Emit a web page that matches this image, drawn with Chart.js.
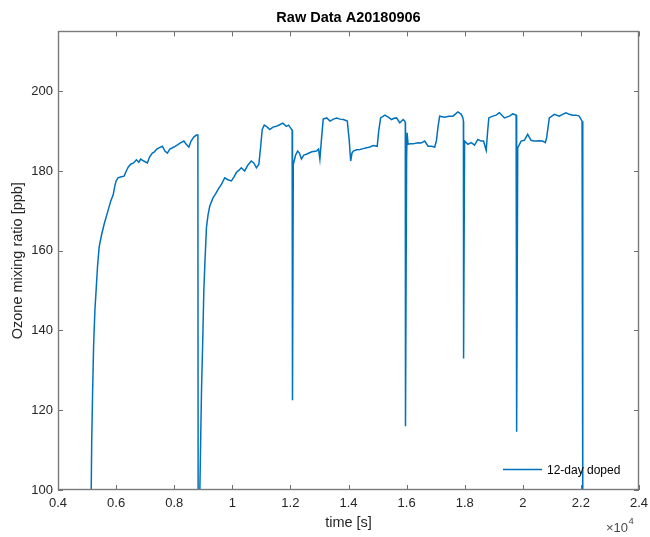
<!DOCTYPE html>
<html>
<head>
<meta charset="utf-8">
<script src="https://cdn.jsdelivr.net/npm/chart.js@4/dist/chart.umd.min.js"></script>
<style>
  html, body { margin: 0; padding: 0; background: #fff; }
  #wrap { width: 650px; height: 537px; }
</style>
</head>
<body>
<div id="wrap"><canvas id="ozoneChart"></canvas></div>
<script>
// --- Data (time in s, ozone in ppb) ---
const timeS = [
  5130, 5160, 5190, 5225, 5270, 5303, 5360, 5417, 5500, 5590, 5700, 5818, 5900, 5950, 6000, 6068,
  6150, 6275, 6350, 6420, 6504, 6600, 6700, 6780, 6847, 6950, 7077, 7150, 7248, 7320, 7400, 7480,
  7591, 7680, 7763, 7850, 7990, 8100, 8200, 8333, 8400, 8504, 8580, 8676, 8760, 8815, 8825,
  8860, 8900, 8940, 8980, 9020, 9060, 9110, 9165, 9225, 9340, 9430, 9510, 9630, 9740, 9850, 9970,
  10060, 10140, 10230, 10310, 10425, 10540, 10655, 10740, 10830, 10915, 10975, 11030, 11100, 11170,
  11230, 11290, 11400, 11515, 11630, 11740, 11860, 11940, 12030, 12060, 12072, 12100, 12180, 12250,
  12310, 12380, 12460, 12550, 12640, 12740, 12900, 12970, 13015, 13070, 13130, 13250, 13365, 13480,
  13595, 13708, 13822, 13959, 14027, 14060, 14075, 14120, 14165, 14280, 14394, 14510, 14624, 14740,
  14851, 14988, 15040, 15105, 15252, 15370, 15482, 15570, 15653, 15766, 15880, 15938, 15955, 15962,
  16000, 16017, 16051, 16140, 16223, 16394, 16500, 16624, 16738, 16850, 16967, 17025, 17080, 17138,
  17310, 17450, 17595, 17766, 17883, 17938, 17955, 17962, 17996, 18109, 18226, 18339, 18452, 18569,
  18648, 18740, 18790, 18830, 18967, 19080, 19197, 19369, 19540, 19654, 19770, 19785, 19791, 19825,
  19941, 20054, 20168, 20284, 20370, 20456, 20570, 20682, 20775, 20820, 20870, 20913, 21084, 21255,
  21370, 21485, 21600, 21712, 21830, 21941, 22040, 22062, 22068
];
const ozonePpb = [
  90, 112, 124, 136, 145, 149, 156, 161, 164, 166.7, 169.5, 172.5, 174, 176, 177.5, 178.3,
  178.5, 178.7, 180, 181, 181.7, 182, 182.8, 182.2, 183, 182.5, 182, 183.5, 184.5, 184.8, 185.5, 185.8,
  186.2, 185, 184.5, 185.5, 186, 186.5, 187, 187.5, 186.8, 186, 187.5, 188.5, 189, 189, 90,
  90, 107.5, 125, 136.7, 150, 157.5, 165.8, 169, 171.2, 173.3, 174.3, 175.4, 176.7, 178.3, 177.8, 177.5,
  178.5, 179.6, 180.2, 180.8, 180, 181.5, 182.5, 182, 180.8, 181.7, 186, 190.4, 191.5, 191.2,
  190.8, 190.4, 191, 191.2, 191.6, 192, 191.2, 191.5, 190.5, 190.3, 122.5, 181.7, 184, 185,
  184.5, 183, 184, 184.2, 184.5, 184.8, 185, 185.5, 183, 188, 193, 193.3, 192.5, 193,
  193.3, 193, 192.9, 192.5, 187.5, 184, 182.5, 184.5, 185, 185.3, 185.4, 185.6, 185.8, 186,
  186.4, 186.2, 190, 193.3, 194, 193.5, 192.9, 193.2, 193.3, 192.1, 192.9, 192.5, 192, 116,
  183, 189.6, 186.7, 186.8, 186.8, 187.1, 187, 187.5, 186.2, 186.2, 186, 187.5, 191, 193.75,
  193.5, 193.7, 193.75, 194.8, 194.2, 193.3, 192.5, 133, 187.5, 186.7, 187.1, 186.5, 187.9, 187.5,
  187.5, 185.2, 190, 193.3, 193.75, 194, 194.6, 193.3, 193.75, 194.3, 194, 193.5, 114.6, 185.8,
  187.5, 187.7, 189.2, 187.7, 187.5, 187.5, 187.6, 187.5, 187.1, 188.3, 191, 193.3, 194.2, 193.75,
  194.2, 194.6, 194.2, 194, 194, 193.75, 192.5, 192, 90
];
const xTicks = [4000, 6000, 8000, 10000, 12000, 14000, 16000, 18000, 20000, 22000, 24000];
const xTickLabels = ['0.4', '0.6', '0.8', '1', '1.2', '1.4', '1.6', '1.8', '2', '2.2', '2.4'];
const yTicks = [100, 120, 140, 160, 180, 200];
const seriesLabel = '12-day doped';

const FONT = "'Liberation Sans', Arial, Helvetica, sans-serif";
const AXIS_INK = '#262626';
const LINE_BLUE = '#0072BD';

// box + inward ticks, legend and the x10^4 exponent, matlab style
const matlabAxes = {
  id: 'matlabAxes',
  afterDatasetsDraw(chart) {
    const { ctx, chartArea: a, scales: { x, y } } = chart;
    ctx.save();
    ctx.strokeStyle = '#6e6e6e';
    ctx.lineWidth = 1;
    ctx.beginPath();
    xTicks.forEach(v => {
      const px = Math.round(x.getPixelForValue(v)) + 0.5;
      ctx.moveTo(px, a.bottom); ctx.lineTo(px, a.bottom - 5);
      ctx.moveTo(px, a.top); ctx.lineTo(px, a.top + 5);
    });
    yTicks.forEach(v => {
      const py = Math.round(y.getPixelForValue(v)) + 0.5;
      ctx.moveTo(a.left, py); ctx.lineTo(a.left + 5, py);
      ctx.moveTo(a.right, py); ctx.lineTo(a.right - 5, py);
    });
    ctx.stroke();
    ctx.strokeStyle = '#7a7a7a';
    ctx.lineWidth = 1.4;
    ctx.strokeRect(Math.round(a.left) + 0.5, Math.round(a.top) + 0.5,
                   Math.round(a.right - a.left) - 1, Math.round(a.bottom - a.top) - 1);

    // legend (no box)
    const ds = chart.data.datasets[0];
    ctx.strokeStyle = ds.borderColor;
    ctx.lineWidth = 1.4;
    ctx.beginPath();
    ctx.moveTo(a.right - 136, a.bottom - 20.5);
    ctx.lineTo(a.right - 97, a.bottom - 20.5);
    ctx.stroke();
    ctx.fillStyle = '#000';
    ctx.font = '12px ' + FONT;
    ctx.textAlign = 'left';
    ctx.textBaseline = 'middle';
    ctx.fillText(ds.label, a.right - 92, a.bottom - 19);

    // exponent label
    ctx.fillStyle = '#4a4a4a';
    ctx.font = '13px ' + FONT;
    ctx.fillText('\u00d710', a.right - 33, a.bottom + 38);
    ctx.font = '9.5px ' + FONT;
    ctx.fillText('4', a.right - 10.5, a.bottom + 31);
    ctx.restore();
  }
};

const ctx = document.getElementById('ozoneChart').getContext('2d');
new Chart(ctx, {
  type: 'line',
  data: {
    datasets: [{
      label: seriesLabel,
      data: timeS.map((t, i) => ({ x: t, y: ozonePpb[i] })),
      borderColor: LINE_BLUE,
      borderWidth: 1.5,
      pointRadius: 0,
      tension: 0,
      fill: false,
      clip: 0
    }]
  },
  options: {
    responsive: true,
    maintainAspectRatio: false,
    animation: false,
    layout: { padding: { left: 0, right: 11, top: 0, bottom: 0 } },
    plugins: {
      legend: { display: false },
      tooltip: { enabled: false },
      title: {
        display: true,
        fullSize: false,
        text: 'Raw Data A20180906',
        color: '#000',
        font: { family: FONT, size: 14.5, weight: 'bold' },
        padding: { top: 9, bottom: 5 }
      }
    },
    scales: {
      x: {
        type: 'linear',
        min: 4000,
        max: 24000,
        afterBuildTicks: s => { s.ticks = xTicks.map(v => ({ value: v })); },
        afterFit: s => { s.height = 47; s.paddingLeft = 0; s.paddingRight = 0; },
        grid: { display: false, drawTicks: false },
        border: { display: false },
        ticks: {
          padding: 6,
          color: AXIS_INK,
          font: { family: FONT, size: 13 },
          maxRotation: 0,
          autoSkip: false,
          callback: (v, i) => xTickLabels[i]
        },
        title: {
          display: true,
          text: 'time [s]',
          color: AXIS_INK,
          font: { family: FONT, size: 14.5 },
          padding: { top: 0, bottom: 5 }
        }
      },
      y: {
        min: 100,
        max: 215,
        afterBuildTicks: s => { s.ticks = yTicks.map(v => ({ value: v })); },
        afterFit: s => { s.width = 58; },
        grid: { display: false, drawTicks: false },
        border: { display: false },
        ticks: {
          padding: 5,
          color: AXIS_INK,
          font: { family: FONT, size: 13 }
        },
        title: {
          display: true,
          text: 'Ozone mixing ratio [ppb]',
          color: AXIS_INK,
          font: { family: FONT, size: 14.5 },
          padding: { top: 9, bottom: 0 }
        }
      }
    }
  },
  plugins: [matlabAxes]
});
</script>
</body>
</html>
